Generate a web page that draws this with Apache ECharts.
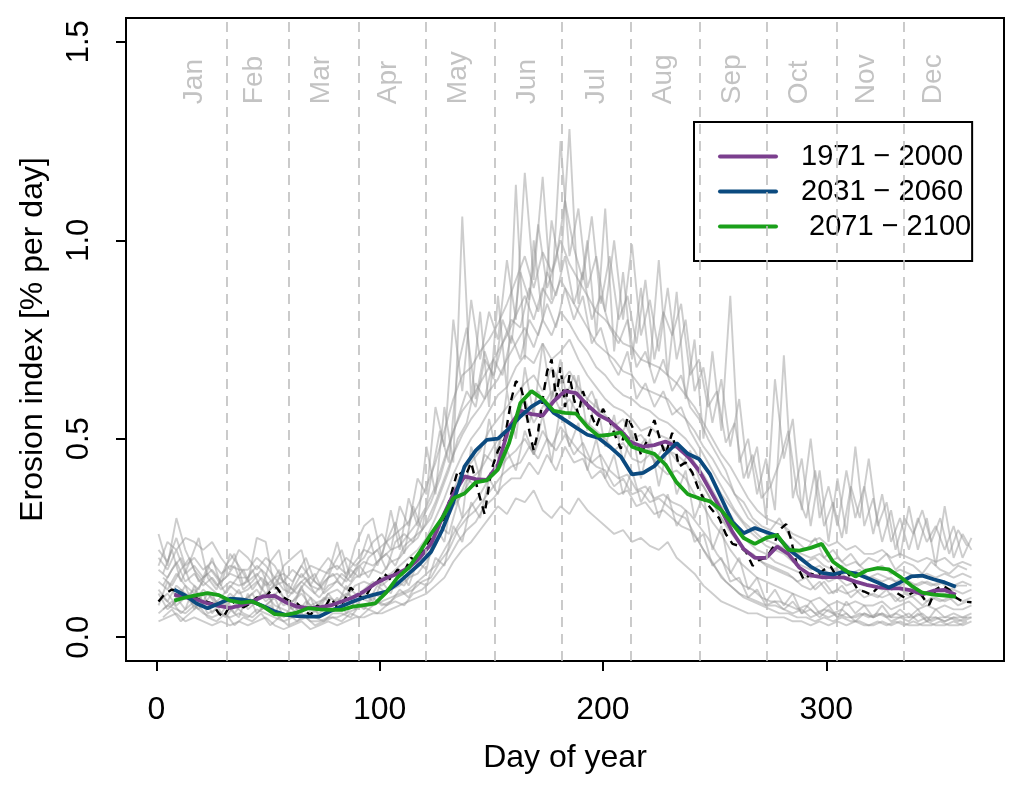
<!DOCTYPE html>
<html>
<head>
<meta charset="utf-8">
<title>Erosion index</title>
<script src="https://cdn.jsdelivr.net/npm/echarts@6/dist/echarts.min.js"></script>
<style>
  html, body { margin: 0; padding: 0; background: #fff; }
  #chart { width: 1033px; height: 795px; }
</style>
</head>
<body>
<div id="chart"></div>
<script>
// month boundaries / mid-points (day of year) and names
const monthStarts = [31.5, 59.5, 90.5, 120.5, 151.5, 181.5, 212.5, 243.5, 273.5, 304.5, 334.5];
const monthMid = [17, 44, 74, 104, 135, 166, 197, 227, 258, 288, 318, 348];
const monthNames = ['Jan', 'Feb', 'Mar', 'Apr', 'May', 'Jun', 'Jul', 'Aug', 'Sep', 'Oct', 'Nov', 'Dec'];

const xTicks = [0, 100, 200, 300];
const yTicks = [0, 0.5, 1, 1.5];

// single years (grey), read every 4 days, values in 1/100 % per day
const grayDays = [1,5,9,13,17,21,25,29,33,37,
  41,45,49,53,57,61,65,69,73,77,
  81,85,89,93,97,101,105,109,113,117,
  121,125,129,133,137,141,145,149,153,157,
  161,165,169,173,177,181,185,189,193,197,
  201,205,209,213,217,221,225,229,233,237,
  241,245,249,253,257,261,265,269,273,277,
  281,285,289,293,297,301,305,309,313,317,
  321,325,329,333,337,341,345,349,353,357,
  361,365];
// other single years, read on the days in between
const grayDays2 = [3,7,11,15,19,23,27,31,35,39,
  43,47,51,55,59,63,67,71,75,79,
  83,87,91,95,99,103,107,111,115,119,
  123,127,131,135,139,143,147,151,155,159,
  163,167,171,175,179,183,187,191,195,199,
  203,207,211,215,219,223,227,231,235,239,
  243,247,251,255,259,263,267,271,275,279,
  283,287,291,295,299,303,307,311,315,319,
  323,327,331,335,339,343,347,351,355,359,
  363];

const yearA = [4,5,6,4,5,4,3,4,3,4, 3,4,5,3,2,3,4,2,3,4, 3,4,5,5,6,6,7,8,9,10,
  11,13,15,19,22,24,27,30,33,31, 35,34,37,32,30,33,31,35,32,30, 28,26,27,24,25,23,22,24,20,18,
  16,13,11,9,8,7,6,6,5,5, 5,4,4,3,4,3,4,3,4,3, 3,4,3,4,3,3,4,3,3,4, 3,4];
const yearB = [6,8,7,6,8,6,5,6,5,6, 5,7,6,5,4,5,6,4,4,5, 5,6,7,8,8,9,10,11,12,14,
  16,18,22,26,30,33,36,40,42,45, 47,50,46,52,48,53,50,47,45,43, 42,38,40,36,37,34,35,33,31,30,
  26,22,19,15,13,11,10,9,8,8, 7,6,7,5,6,5,6,5,5,6, 5,6,5,5,6,4,5,5,4,5, 5,5];
const yearC = [9,11,8,10,12,9,8,10,7,9, 8,10,11,8,7,6,8,7,6,8, 7,8,9,10,11,10,12,13,15,16,
  19,23,28,33,36,40,42,46,50,52, 55,60,54,58,62,57,60,56,54,52, 50,47,49,45,44,46,43,41,42,40,
  36,33,29,26,22,19,17,15,14,13, 12,11,10,9,10,8,9,8,9,8, 8,9,7,8,9,7,8,7,8,7, 7,8];
const yearD = [12,9,13,11,9,12,10,8,11,9, 10,12,9,11,8,9,11,8,9,10, 9,11,10,12,14,13,15,16,18,20,
  22,26,31,37,42,44,47,52,55,58, 61,64,66,62,68,64,67,63,60,58, 56,53,55,50,51,48,49,47,46,44,
  40,38,34,30,27,24,21,20,18,17, 16,15,13,12,14,11,12,11,12,10, 11,10,11,9,10,11,9,10,9,10, 9,10];
const yearE = [14,12,16,13,11,14,12,10,13,11, 12,14,11,13,10,9,12,10,8,11, 12,10,13,14,13,15,16,18,20,22,
  25,30,35,41,46,50,53,57,61,63, 68,71,69,74,70,72,75,70,66,63, 60,58,57,55,52,53,51,50,48,47,
  44,41,37,33,31,27,24,22,21,19, 18,17,16,15,16,14,15,13,14,13, 13,12,13,12,11,12,11,12,11,12, 11,12];
const yearF = [17,15,19,14,16,13,15,12,14,13, 14,16,13,15,12,11,14,12,10,13, 14,12,15,16,17,16,19,20,23,25,
  29,34,40,46,51,55,58,62,65,70, 74,78,73,80,76,82,79,75,72,68, 66,63,61,60,58,57,55,54,52,50,
  47,43,40,36,33,30,27,25,23,22, 21,19,18,17,18,16,17,15,16,15, 15,14,15,13,14,13,14,13,14,13, 14,13];
const yearG = [20,17,22,16,18,15,17,14,16,15, 15,18,16,13,14,12,16,13,12,15, 16,14,17,19,18,20,22,23,26,29,
  33,38,45,52,57,60,64,68,72,76, 81,86,80,88,84,90,86,82,78,74, 72,70,67,66,63,62,61,60,57,55,
  52,48,45,41,38,34,30,28,26,25, 24,22,21,20,21,19,20,18,19,17, 17,18,16,17,16,15,16,15,16,15, 16,15];
const yearH = [22,19,25,18,20,17,19,16,18,17, 17,20,18,15,16,14,18,15,13,17, 18,16,19,22,21,23,25,27,29,33,
  38,44,52,60,66,68,72,75,79,84, 90,96,88,97,92,100,94,90,86,82, 80,77,74,73,70,69,68,66,64,61,
  58,54,50,46,43,39,35,32,30,29, 28,26,25,24,25,23,24,22,23,21, 21,22,20,21,20,19,20,19,20,18, 19,18];
const yearI = [26,18,30,22,17,14,20,13,21,18, 14,25,24,12,18,20,22,13,17,16, 24,15,23,28,30,20,32,22,35,28,
  48,36,58,44,106,60,82,58,86,62, 114,70,100,80,105,92,128,84,100,76, 108,72,92,70,88,68,95,66,87,60,
  75,50,72,52,86,44,50,36,45,32, 71,35,45,28,42,24,40,26,48,28, 35,24,32,20,33,22,30,18,33,20, 26,22];
const yearJ = [18,24,22,25,24,22,24,20,17,22, 20,17,20,18,14,17,15,18,17,20, 17,20,18,20,24,26,22,33,28,40,
  36,58,48,80,62,85,70,82,75,95, 80,117,90,116,85,125,96,108,88,96, 82,100,80,99,76,85,72,88,70,80,
  62,68,54,65,48,60,40,48,30,65, 45,55,32,50,30,38,28,42,30,38, 26,36,24,30,22,30,24,28,22,28, 20,25];
const yearK = [8,14,10,7,13,8,11,6,9,12, 7,9,14,6,10,7,13,6,7,11, 8,13,7,11,9,14,11,17,13,19,
  17,28,24,38,30,48,40,55,45,62, 50,68,56,74,60,70,55,66,52,60, 48,56,44,52,40,50,38,48,36,42,
  30,36,22,28,16,20,12,15,9,12, 8,11,6,9,6,8,5,9,6,8, 5,8,5,7,5,7,4,7,5,6, 5,6];
const yearL = [11,7,9,13,7,11,6,9,7,5, 11,6,8,10,5,8,6,10,5,7, 10,6,9,7,10,8,9,12,10,14,
  13,20,18,28,24,34,30,40,36,47, 42,52,46,56,44,58,48,54,42,50, 40,46,36,42,34,38,30,36,28,32,
  24,26,18,20,14,15,10,12,8,9, 7,9,6,7,5,7,5,6,4,6, 5,6,4,5,4,6,4,5,4,5, 4,5];

const yearM = [16,22,14,19,25,15,12,18,21,13, 17,12,19,22,11,16,20,14,12,18, 22,15,19,26,18,24,29,21,33,27,
  40,52,44,68,78,60,72,65,80,74, 92,85,104,88,95,110,98,90,106,84, 96,80,86,74,90,70,82,76,84,66,
  70,58,62,49,54,40,46,35,38,44, 52,36,30,42,28,34,25,38,30,45, 28,34,22,30,26,32,24,30,21,27, 23];
const yearN = [13,17,20,14,12,18,15,11,14,17, 12,15,13,17,10,13,15,11,14,16, 13,17,15,20,22,17,24,26,24,30,
  34,40,48,55,62,58,70,66,74,80, 78,88,82,92,86,96,84,92,80,86, 78,74,80,68,72,64,70,62,66,58,
  55,50,46,42,36,34,30,28,27,30, 26,24,22,25,20,22,19,21,18,20, 19,21,17,19,18,16,19,17,16,18, 17];
const yearO = [10,8,12,9,7,11,8,10,6,9, 11,7,9,12,8,6,9,7,10,8, 9,12,10,9,13,11,14,13,17,19,
  22,28,26,34,40,38,46,44,52,50, 58,54,62,57,64,60,66,58,62,56, 55,50,54,47,50,44,48,46,43,47,
  40,36,32,28,25,22,21,19,18,17, 16,14,15,12,14,11,13,10,12,11, 10,12,9,11,10,8,10,9,10,8, 9];
const yearP = [7,9,6,8,10,6,7,5,8,6, 5,7,8,5,6,4,6,5,4,6, 6,5,8,7,9,8,10,11,12,14,
  15,19,22,27,30,32,35,38,41,43, 44,48,45,50,47,51,46,49,44,46, 42,40,41,37,38,35,36,34,33,31,
  28,25,21,18,15,13,12,10,9,9, 8,7,8,6,7,6,7,5,6,5, 6,5,6,5,5,6,4,5,5,4, 5];
const yearQ = [15,13,17,20,14,16,13,15,18,12, 14,17,12,15,13,11,14,16,11,13, 16,14,18,15,19,21,18,23,25,27,
  30,36,42,50,54,64,60,70,66,76, 70,80,76,84,78,88,80,86,74,78, 70,66,72,60,64,58,62,56,58,52,
  48,44,40,36,32,29,27,25,24,23, 22,21,19,20,18,17,18,16,17,15, 16,15,14,15,13,14,13,14,12,13, 13];
const yearR = [5,7,4,6,8,5,4,6,3,5, 4,6,3,5,3,4,5,3,4,5, 4,6,5,7,6,8,9,8,11,12,
  14,17,20,24,27,29,33,35,38,40, 40,44,41,46,42,48,44,45,40,42, 38,36,37,33,34,31,32,30,28,27,
  24,20,17,14,12,10,9,8,7,6, 6,5,5,4,5,4,5,4,4,3, 4,3,4,3,4,3,3,4,3,3, 4];

// observed (black dashed)
const obsDays = [1,4,7,10,13,16,19,22,25,28, 30,33,36,39,42,45,48,51,54,57,
  60,63,66,69,72,75,78,81,84,87, 90,93,96,99,102,105,108,111,114,117,
  120,123,126,129,132,135,138,141,144,147, 150,153,156,159,161,163,165,167,169,171,
  173,175,177,179,181,183,185,187,189,191, 194,197,200,203,206,208,211,214,217,220,
  223,226,228,231,234,237,240,243,246,249, 252,255,258,261,264,267,270,273,276,279,
  282,284,287,290,293,296,299,302,305,308, 311,314,317,320,323,326,329,332,335,338,
  341,344,346,349,352,355,358,361,365];
const obsValues = [.09,.11,.12,.115,.1,.105,.095,.09,.085,.06, .05,.08,.095,.075,.085,.1,.095,.115,.125,.1,
  .09,.085,.07,.055,.08,.07,.1,.075,.09,.125, .11,.095,.125,.14,.16,.145,.17,.165,.2,.19,
  .225,.25,.28,.3,.36,.42,.4,.44,.37,.31, .42,.47,.5,.6,.645,.635,.59,.52,.47,.52,
  .6,.67,.7,.6,.68,.58,.66,.6,.56,.62, .57,.53,.575,.545,.5,.475,.555,.52,.46,.5,
  .547,.49,.46,.515,.43,.44,.415,.37,.34,.32, .3,.26,.235,.23,.215,.18,.195,.2,.225,.27,
  .285,.25,.178,.144,.16,.155,.17,.178,.149,.175, .15,.12,.115,.107,.125,.13,.123,.11,.1,.11,
  .12,.095,.081,.12,.13,.12,.1,.09,.088];

// 30-year means, every 5 days
const meanDays = [8,13,18,23,28,33,38,43,48,53, 58,63,68,73,78,83,88,93,98,103,
  108,113,118,123,128,133,138,143,148,153, 158,163,168,173,178,183,188,193,198,203,
  208,213,218,223,228,233,238,243,248,253, 258,263,268,273,278,283,288,293,298,303,
  308,313,318,323,328,333,338,343,348,353, 358];
const mean1971 = [.107,.1,.095,.085,.079,.074,.08,.09,.103,.104, .088,.077,.073,.075,.08,.09,.1,.115,.135,.149,
  .16,.175,.2,.235,.3,.36,.405,.398,.396,.435, .53,.57,.562,.558,.595,.62,.615,.585,.56,.545,
  .52,.49,.48,.484,.493,.48,.455,.42,.37,.32, .265,.222,.2,.2,.228,.21,.175,.156,.151,.152,
  .15,.14,.132,.126,.123,.123,.118,.108,.117,.119, .107];
const mean2031 = [.12,.105,.085,.073,.085,.097,.095,.09,.078,.065, .056,.053,.052,.052,.066,.078,.09,.1,.108,.115,
  .135,.16,.185,.215,.27,.34,.43,.47,.497,.5, .526,.556,.581,.598,.565,.547,.528,.51,.502,.48,
  .455,.41,.414,.431,.462,.489,.462,.449,.41,.35, .29,.262,.275,.265,.255,.222,.2,.178,.162,.158,
  .165,.161,.15,.138,.125,.138,.153,.155,.146,.138, .127];
const mean2071 = [.092,.1,.106,.111,.106,.092,.087,.09,.077,.058, .056,.062,.073,.07,.069,.069,.077,.081,.085,.113,
  .15,.175,.215,.26,.3,.35,.362,.39,.395,.423, .49,.59,.62,.6,.57,.565,.563,.53,.507,.51,
  .516,.48,.47,.462,.435,.39,.36,.35,.342,.32, .285,.25,.235,.25,.257,.22,.218,.225,.235,.19,
  .17,.153,.168,.174,.171,.152,.13,.112,.107,.105, .102];

const periodNames = ['1971 \u2212 2000', '2031 \u2212 2060', ' 2071 \u2212 2100'];

const font = "'Liberation Sans', Arial, Helvetica, sans-serif";
const chart = echarts.init(document.getElementById('chart'));

const grayLine = { color: 'rgba(150,150,150,0.48)', width: 1.9 };
const series = [];
[yearA, yearB, yearC, yearD, yearE, yearF, yearG, yearH, yearI, yearJ, yearK, yearL].forEach((vals, k) => {
  series.push({
    type: 'line', name: 'year' + k,
    data: grayDays.map((d, i) => [d, vals[i] / 100]),
    showSymbol: false, symbol: 'none', silent: true, z: 1, lineStyle: grayLine
  });
});
[yearM, yearN, yearO, yearP, yearQ, yearR].forEach((vals, k) => {
  series.push({
    type: 'line', name: 'yearb' + k,
    data: grayDays2.map((d, i) => [d, vals[i] / 100]),
    showSymbol: false, symbol: 'none', silent: true, z: 1, lineStyle: grayLine
  });
});

// month separators + names
series.push({
  type: 'scatter',
  name: 'months',
  data: monthMid.map((d, i) => ({ value: [d, 1.343], name: monthNames[i] })),
  symbolSize: 1,
  silent: true,
  z: 2,
  itemStyle: { color: 'transparent' },
  label: {
    show: true, formatter: p => p.name, position: 'inside', rotate: 90,
    align: 'left', verticalAlign: 'middle',
    color: '#b4b4b4', fontSize: 28, fontFamily: font
  },
  markLine: {
    silent: true, symbol: ['none', 'none'], label: { show: false },
    lineStyle: { color: '#bebebe', type: [10, 7], width: 1.6 },
    data: monthStarts.map(d => ({ xAxis: d }))
  }
});

series.push({
  type: 'line',
  name: 'observed',
  data: obsDays.map((d, i) => [d, obsValues[i]]),
  showSymbol: false, symbol: 'none', silent: true, z: 3,
  lineStyle: { color: '#000', width: 2.4, type: [8, 6] }
});

const periodColors = ['#7b3f8e', '#0b4a7f', '#1aa01a'];
[mean1971, mean2031, mean2071].forEach((vals, k) => {
  series.push({
    type: 'line',
    name: periodNames[k],
    data: meanDays.map((d, i) => [d, vals[i]]),
    symbol: 'none', silent: true, z: 4 + k,
    color: periodColors[k],
    lineStyle: { color: periodColors[k], width: 3.8 }
  });
});

const option = {
  animation: false,
  backgroundColor: '#fff',
  grid: {
    left: 126, right: 29, top: 18, bottom: 134,
    show: true, borderColor: '#000', borderWidth: 2,
    outerBoundsMode: 'none'
  },
  legend: {
    data: periodNames,
    orient: 'vertical', left: 694, top: 122,
    backgroundColor: '#fff', borderColor: '#000', borderWidth: 2,
    padding: [17, 1, 17, 24],
    itemWidth: 56, itemHeight: 4, itemGap: 0,
    selectedMode: false,
    lineStyle: { width: 4, cap: 'round' },
    textStyle: { fontSize: 29, color: '#000', fontFamily: font, lineHeight: 35, padding: [0, 0, 0, 20] }
  },
  xAxis: {
    type: 'value', min: -13.56, max: 379.56,
    name: 'Day of year', nameLocation: 'middle', nameGap: 81,
    nameTextStyle: { fontSize: 32, color: '#000', fontFamily: font },
    axisLine: { show: false, onZero: false },
    axisTick: { show: true, customValues: xTicks, length: 10, lineStyle: { color: '#000', width: 2 } },
    axisLabel: { show: true, customValues: xTicks, fontSize: 32, color: '#000', fontFamily: font, margin: 33 },
    splitLine: { show: false }
  },
  yAxis: {
    type: 'value', min: -0.06, max: 1.56,
    name: 'Erosion index [% per day]', nameLocation: 'middle', nameGap: 77,
    nameTextStyle: { fontSize: 32, color: '#000', fontFamily: font },
    axisLine: { show: false, onZero: false },
    axisTick: { show: true, customValues: yTicks, length: 10, lineStyle: { color: '#000', width: 2 } },
    axisLabel: {
      show: true, customValues: yTicks, rotate: 90, fontSize: 31, color: '#000', fontFamily: font, margin: 31,
      formatter: v => v.toFixed(1)
    },
    splitLine: { show: false }
  },
  series: series
};

chart.setOption(option);
</script>
</body>
</html>
